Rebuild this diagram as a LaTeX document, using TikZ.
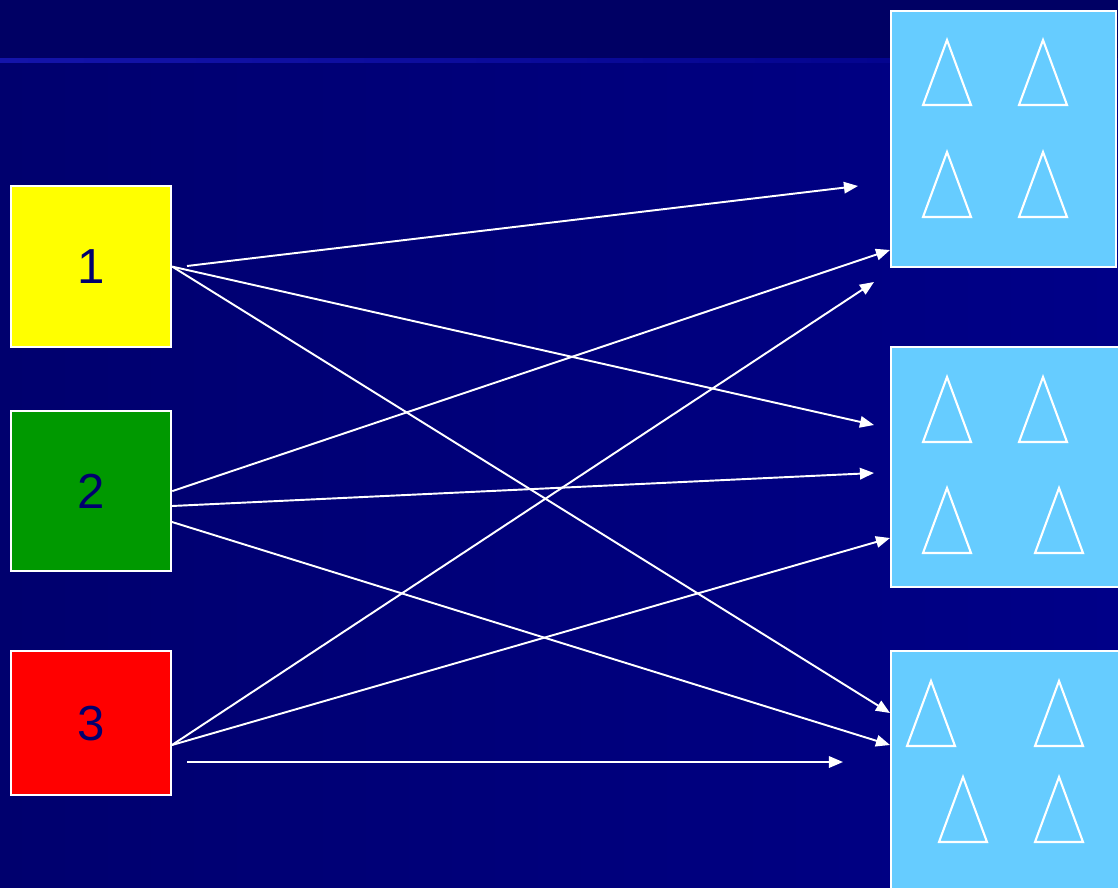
\documentclass[tikz,border=0pt]{standalone}
\usepackage{fontspec}
\setmainfont{Liberation Sans}
\usetikzlibrary{arrows.meta}

\definecolor{bgtop}{RGB}{0,0,100}
\definecolor{bgleft}{RGB}{0,0,110}
\definecolor{bgright}{RGB}{0,0,136}
\definecolor{rulecol}{RGB}{20,20,170}
\definecolor{numtext}{RGB}{0,0,110}
\definecolor{setblue}{RGB}{102,204,255}
\definecolor{srcyellow}{RGB}{255,255,0}
\definecolor{srcgreen}{RGB}{0,153,0}
\definecolor{srcred}{RGB}{255,0,0}

\tikzset{
    numbox/.style={draw=white, line width=1.3pt, anchor=north west, inner sep=0pt,
        minimum width=3.2cm, text=numtext, font=\fontsize{28}{30}\selectfont},
    setbox/.style={draw=white, line width=1.3pt, fill=setblue, anchor=north west,
        inner sep=0pt},
    link/.style={white, line width=1.1pt, -{Triangle[length=8pt,width=6.5pt]}},
    tri/.style={white, line width=1.2pt, line join=miter}
}

\begin{document}
\begin{tikzpicture}[x=0.02cm, y=-0.02cm]
    \useasboundingbox (0,0) rectangle (1118,888);
    \clip (0,0) rectangle (1118,888);
    % background
    \fill[bgtop] (0,0) rectangle (1118,60);
    \shade[left color=bgleft, right color=bgright] (0,60) rectangle (1118,888);
    \shade[left color=rulecol, right color=bgright] (0,59) rectangle (1118,63);

    % sources
    \node[numbox, fill=srcyellow, minimum height=3.22cm] (one) at (10,185) {1};
    \node[numbox, fill=srcgreen, minimum height=3.2cm] (two) at (10,410) {2};
    \node[numbox, fill=srcred, minimum height=2.88cm] (three) at (10,650) {3};

    % target sets
    \node[setbox, minimum width=4.5cm, minimum height=5.12cm] (setA) at (890,10) {};
    \node[setbox, minimum width=4.7cm, minimum height=4.8cm] (setB) at (890,346) {};
    \node[setbox, minimum width=4.7cm, minimum height=5.4cm] (setC) at (890,650) {};

    \foreach \x/\y in {947/40, 1043/40, 947/152, 1043/152,
                       947/377, 1043/377, 947/488, 1059/488,
                       931/681, 1059/681, 963/777, 1059/777}
        \draw[tri] (\x,\y) -- ++(-24,65) -- ++(48,0) -- cycle;

    % arrow ends
    \coordinate (s1) at (187,266);
    \coordinate (s2b) at (172,506);
    \coordinate (s2c) at (172,522);
    \coordinate (s3) at (172,745);
    \coordinate (s3b) at (187,762);
    \coordinate (t1a) at (858,186);
    \coordinate (t1b) at (874,425);
    \coordinate (t1c) at (890,713);
    \coordinate (t2a) at (890,250);
    \coordinate (t2b) at (874,473);
    \coordinate (t2c) at (890,745);
    \coordinate (t3a) at (874,282);
    \coordinate (t3b) at (890,538);
    \coordinate (t3c) at (843,762);

    \draw[link] (s1) -- (t1a);
    \draw[link] (one.east) -- (t1b);
    \draw[link] (one.east) -- (t1c);
    \draw[link] (two.east) -- (t2a);
    \draw[link] (s2b) -- (t2b);
    \draw[link] (s2c) -- (t2c);
    \draw[link] (s3) -- (t3a);
    \draw[link] (s3) -- (t3b);
    \draw[link] (s3b) -- (t3c);
\end{tikzpicture}
\end{document}
